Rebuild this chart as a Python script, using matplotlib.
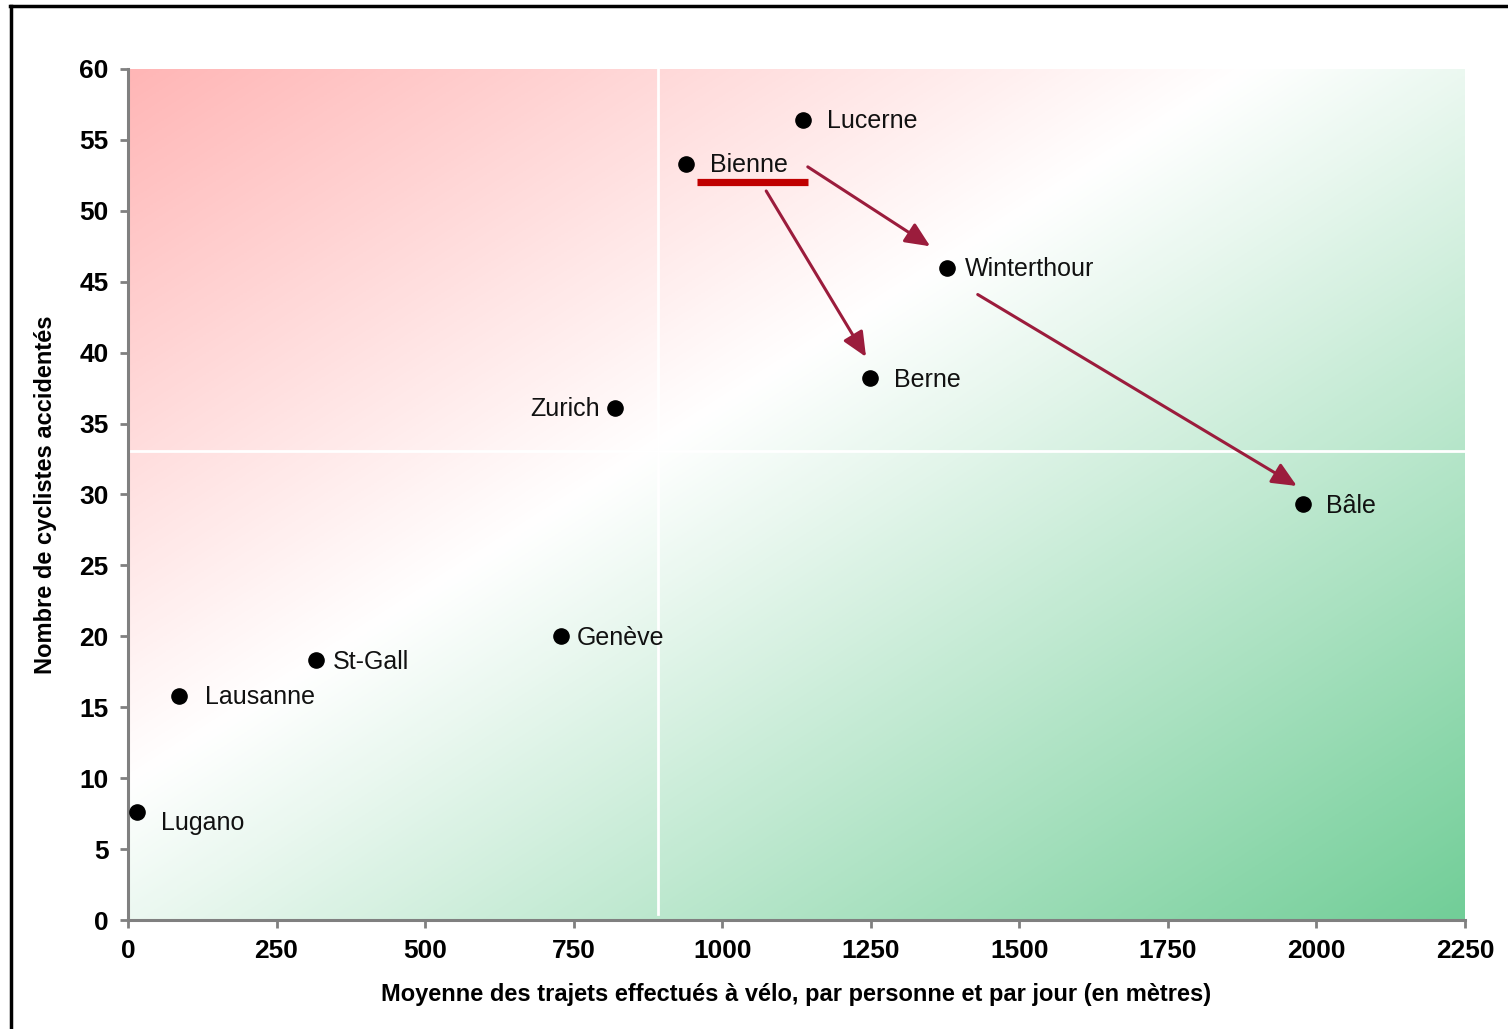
import matplotlib
matplotlib.use("Agg")
import matplotlib.pyplot as plt
import numpy as np
from matplotlib.colors import LinearSegmentedColormap
from matplotlib.patches import FancyArrowPatch
from matplotlib.lines import Line2D

# ---------------- data ----------------
cities = ["Lucerne", "Bienne", "Winterthour", "Berne", "Zurich", "Bâle",
          "Genève", "St-Gall", "Lausanne", "Lugano"]
trajets = [1136, 939, 1378, 1249, 820, 1977, 729, 316, 86, 15]
accidents = [56.4, 53.3, 46.0, 38.2, 36.1, 29.3, 20.0, 18.3, 15.8, 7.6]

x_ticks = [0, 250, 500, 750, 1000, 1250, 1500, 1750, 2000, 2250]
y_ticks = [0, 5, 10, 15, 20, 25, 30, 35, 40, 45, 50, 55, 60]

x_mid = 892
y_mid = 33.1

arrow_start_x = [1144, 1074, 1430]
arrow_start_y = [53.1, 51.4, 44.1]
arrow_end_x = [1350, 1242, 1967]
arrow_end_y = [47.5, 39.7, 30.6]

underline_x = [958, 1144]
underline_y = [52.0, 52.0]

xlabel = "Moyenne des trajets effectués à vélo, par personne et par jour (en mètres)"
ylabel = "Nombre de cyclistes accidentés"

# label offsets (points) and alignment
label_style = {
    "Lucerne": (17, -1, "left"),
    "Bienne": (17, -1, "left"),
    "Winterthour": (13, -1, "left"),
    "Berne": (17, -1, "left"),
    "Zurich": (-11, -1, "right"),
    "Bâle": (17, -1, "left"),
    "Genève": (11, -1, "left"),
    "St-Gall": (12, -1, "left"),
    "Lausanne": (19, -1, "left"),
    "Lugano": (17, -8, "left"),
}

# ---------------- figure ----------------
W, H = 1508, 1029
fig = plt.figure(figsize=(W / 100, H / 100), dpi=100)
fig.patch.set_facecolor("white")
ax = fig.add_axes([128 / W, 1 - 920 / H, (1465 - 128) / W, (920 - 69) / H])

bold_font = ["Liberation Sans Narrow", "Liberation Sans", "DejaVu Sans"]
reg_font = ["Liberation Sans", "DejaVu Sans"]

# gradient background
cmap = LinearSegmentedColormap.from_list(
    "rg", [(0.0, "#ffb6b6"), (0.42, "#ffffff"), (1.0, "#72ce98")])
n = 400
u = np.linspace(0, 1, n)
v = np.linspace(0, 1, n)
U, V = np.meshgrid(u, v)
T = (U + V) / 2  # top-left (row 0 at top) -> bottom-right
ax.imshow(T, cmap=cmap, extent=[0, 1, 0, 1], transform=ax.transAxes,
          origin="upper", aspect="auto", zorder=0, interpolation="bilinear")

ax.set_xlim(0, 2250)
ax.set_ylim(0, 60)

# white quadrant lines
ax.plot([x_mid, x_mid], [0.4, 60], color="white", lw=2.0, zorder=1)
ax.plot([0, 2250], [y_mid, y_mid], color="white", lw=2.0, zorder=1)

# points
ax.scatter(trajets, accidents, s=120, color="black", zorder=4, clip_on=False)
for name, xv, yv in zip(cities, trajets, accidents):
    dx, dy, ha = label_style[name]
    ax.annotate(name, (xv, yv), xytext=(dx, dy), textcoords="offset points",
                ha=ha, va="center", fontsize=18, family=reg_font,
                color="#111111", zorder=5)

# underline under Bienne
ax.plot(underline_x, underline_y, color="#c00000", lw=5.2,
        solid_capstyle="butt", zorder=4)

# arrows
for sx, sy, ex, ey in zip(arrow_start_x, arrow_start_y, arrow_end_x, arrow_end_y):
    arr = FancyArrowPatch((sx, sy), (ex, ey),
                          arrowstyle="-|>,head_length=1.0,head_width=0.45",
                          mutation_scale=15, lw=2.2, color="#9b1c3c",
                          shrinkA=0, shrinkB=0, zorder=4)
    ax.add_patch(arr)

# axes styling
for s in ["top", "right"]:
    ax.spines[s].set_visible(False)
for s in ["left", "bottom"]:
    ax.spines[s].set_color("#808080")
    ax.spines[s].set_linewidth(2.2)
ax.set_xticks(x_ticks)
ax.set_yticks(y_ticks)
ax.tick_params(axis="both", direction="out", length=6, width=2.0,
               color="#808080", pad=8)
for lab in ax.get_xticklabels() + ax.get_yticklabels():
    lab.set_family(bold_font)
    lab.set_fontweight("bold")
    lab.set_fontsize(19)
ax.set_xlabel(xlabel, family=bold_font, fontweight="bold", fontsize=17,
              labelpad=14)
ax.set_ylabel(ylabel, family=bold_font, fontweight="bold", fontsize=17,
              labelpad=16)

# outer black frame (top and left)
fig.add_artist(Line2D([10 / W, 1.0], [1 - 6 / H, 1 - 6 / H],
                      transform=fig.transFigure, color="black", lw=2.5))
fig.add_artist(Line2D([11 / W, 11 / W], [0, 1 - 6 / H],
                      transform=fig.transFigure, color="black", lw=2.5))

fig.savefig("out.png", dpi=100)
